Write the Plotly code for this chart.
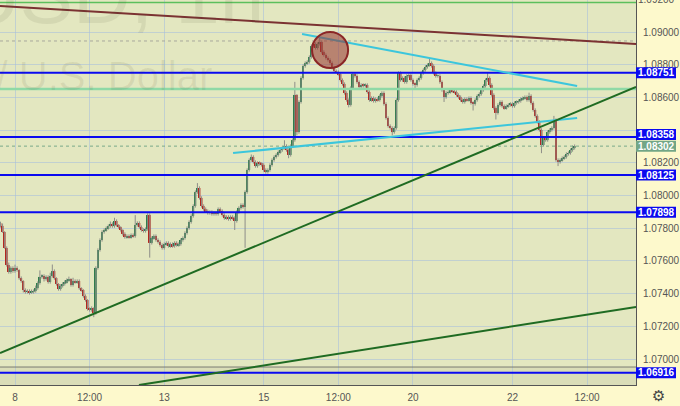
import plotly.graph_objects as go

# ---------------- data (EUR/USD, 1h) ----------------
hours = list(range(-7, 271))  # hour index, 0 = day "8" 00:00
first_open = 1.07830
closes = [
    1.07814, 1.07777, 1.07679, 1.07575, 1.07532, 1.07557, 1.07538,
    1.07557, 1.07544, 1.07495, 1.07477, 1.07422, 1.07410, 1.07416, 1.07404, 1.07410, 1.07416, 1.07434, 1.07465,
    1.07502, 1.07508, 1.07489, 1.07502, 1.07471, 1.07508, 1.07538, 1.07495, 1.07459, 1.07428, 1.07447, 1.07459,
    1.07471, 1.07483, 1.07489, 1.07453, 1.07477, 1.07471, 1.07477, 1.07434, 1.07422, 1.07385, 1.07361, 1.07306,
    1.07300, 1.07312, 1.07281, 1.07557, 1.07667, 1.07728, 1.07777, 1.07789, 1.07801, 1.07813, 1.07826, 1.07813,
    1.07844, 1.07820, 1.07807, 1.07789, 1.07765, 1.07746, 1.07752, 1.07746, 1.07758, 1.07752, 1.07820, 1.07832,
    1.07807, 1.07789, 1.07783, 1.07795, 1.07881, 1.07710, 1.07740, 1.07752, 1.07728, 1.07716, 1.07697, 1.07679,
    1.07703, 1.07710, 1.07691, 1.07703, 1.07691, 1.07710, 1.07697, 1.07703, 1.07728, 1.07740, 1.07771, 1.07801,
    1.07838, 1.07875, 1.07936, 1.08021, 1.08046, 1.07985, 1.07936, 1.07917, 1.07905, 1.07893, 1.07899, 1.07887,
    1.07893, 1.07887, 1.07917, 1.07905, 1.07881, 1.07862, 1.07869, 1.07856, 1.07869, 1.07862, 1.07844, 1.07899,
    1.07924, 1.07942, 1.07930, 1.08021, 1.08156, 1.08217, 1.08236, 1.08205, 1.08180, 1.08199, 1.08193, 1.08187,
    1.08156, 1.08144, 1.08156, 1.08187, 1.08217, 1.08236, 1.08248, 1.08266, 1.08278, 1.08291, 1.08303, 1.08278,
    1.08248, 1.08303, 1.08339, 1.08615, 1.08388, 1.08572, 1.08719, 1.08792, 1.08810, 1.08817, 1.08847, 1.08914,
    1.08927, 1.08902, 1.08927, 1.08939, 1.08878, 1.08859, 1.08841, 1.08829, 1.08810, 1.08780, 1.08761, 1.08755,
    1.08743, 1.08706, 1.08682, 1.08627, 1.08584, 1.08554, 1.08658, 1.08743, 1.08731, 1.08694, 1.08664, 1.08676,
    1.08670, 1.08676, 1.08633, 1.08584, 1.08596, 1.08578, 1.08590, 1.08584, 1.08609, 1.08627, 1.08560, 1.08474,
    1.08425, 1.08413, 1.08388, 1.08413, 1.08584, 1.08749, 1.08706, 1.08719, 1.08694, 1.08731, 1.08737, 1.08706,
    1.08682, 1.08676, 1.08706, 1.08719, 1.08749, 1.08768, 1.08786, 1.08798, 1.08810, 1.08792, 1.08749, 1.08731,
    1.08731, 1.08694, 1.08645, 1.08602, 1.08627, 1.08633, 1.08645, 1.08639, 1.08633, 1.08615, 1.08602, 1.08584,
    1.08572, 1.08590, 1.08584, 1.08596, 1.08566, 1.08560, 1.08584, 1.08609, 1.08621, 1.08645, 1.08670, 1.08706,
    1.08719, 1.08676, 1.08615, 1.08535, 1.08505, 1.08554, 1.08572, 1.08547, 1.08535, 1.08547, 1.08554, 1.08560,
    1.08547, 1.08566, 1.08572, 1.08578, 1.08590, 1.08596, 1.08602, 1.08584, 1.08609, 1.08566, 1.08523, 1.08486,
    1.08450, 1.08401, 1.08309, 1.08352, 1.08339, 1.08388, 1.08401, 1.08413, 1.08462, 1.08217, 1.08205, 1.08217,
    1.08229, 1.08236, 1.08254, 1.08260, 1.08278, 1.08291, 1.08302,
]
upper_wick_pips = [
    1, 1.5, 0.5, 1, 1.5, 1, 1,
    2, 1, 0.5, 1, 0.5, 1, 1, 1, 1.5, 1, 1.5, 1,
    4, 1, 1, 1, 1, 2, 4, 1, 0.5, 0.5, 1, 1,
    1, 1, 1.5, 0.5, 2, 1, 1, 1, 0.5, 0.5, 1, 0.5,
    1, 1, 0.5, 1, 1, 1, 1, 1, 1, 1, 1.5, 1,
    2, 1, 0.5, 0.5, 0.5, 1, 1, 1, 1, 1, 6, 1,
    1, 1, 1, 1, 1, 1, 1, 1, 1, 1, 1, 1,
    1, 1, 1, 1, 1, 1, 1, 1, 1, 1, 1, 1,
    1, 1, 1, 1, 3, 1, 1, 1, 1, 1, 1, 1,
    1, 1, 1, 1, 1, 1, 1, 1, 1, 1, 1, 1,
    1, 1, 1, 1, 1, 1, 1.5, 1, 1, 1, 1, 1,
    1, 1, 1, 1, 1, 1, 1, 1, 1, 1, 3.5, 1,
    1, 1, 1, 8, 0.5, 1, 1, 1, 1, 1, 1, 1,
    1, 1, 1, 2.5, 1, 1, 1, 1, 1, 1, 1, 1,
    1, 1, 1, 1, 1, 1, 1, 1, 1, 1, 1, 1,
    1, 1, 1, 1, 1, 1, 1, 1, 1, 1, 1, 1,
    1, 1, 1, 1, 1, 1, 1, 1, 1, 1, 1, 1,
    1, 1, 1, 1, 1, 1, 1, 1, 3, 1, 1, 1,
    1, 1, 1, 1, 1, 1, 1, 1, 1, 1, 1, 1,
    1, 1, 1, 1, 1, 1, 1, 1, 1, 1, 1, 1,
    3, 1, 1, 1, 1, 1, 1, 1, 1, 1, 1, 1,
    1, 1, 1, 1, 1, 1, 1, 1, 2, 1, 1, 1,
    1, 1, 1, 1, 1, 1, 1, 1, 2.5, 1, 1, 1,
    1, 1, 1, 1, 1, 1.5, 1,
]
lower_wick_pips = [
    1, 0.5, 0.5, 1, 1, 1, 1,
    1, 1, 1, 1, 1.5, 1, 1, 1, 0.5, 1, 1, 1,
    1, 1, 1.5, 1, 1, 1, 1, 1, 1, 1, 1, 1,
    1, 1, 1, 1, 1, 1, 1, 1, 1, 1, 1, 1,
    1, 1, 2.5, 1, 1, 1, 1, 1, 1, 1, 1, 1,
    1, 1, 1, 1, 1, 1, 1, 1, 1, 1, 1, 1,
    1, 1, 1, 1, 1, 9, 1, 1, 1, 1, 1, 1,
    1, 1, 1, 1, 1, 1, 1, 1, 1, 1, 1, 1,
    1, 1, 1, 1, 1, 1, 1, 1, 1, 1, 1, 1,
    1, 1, 1, 1, 1, 1, 1, 1, 1, 1, 5.5, 1,
    1, 1, 1, 25, 1, 1, 1, 1, 1, 1, 1, 1,
    1, 1, 1, 1, 1, 1, 1, 1, 1, 1, 1, 1,
    2, 1, 1, 1, 2, 1, 1, 1, 1, 1, 1, 1,
    1, 1, 1, 1, 1, 1, 1, 1, 1, 1, 1, 1,
    1, 1, 1, 1, 1, 1.5, 1, 1, 1, 1, 1, 1,
    1, 1, 1, 1, 1, 1, 1, 1, 1, 1, 1, 1,
    1, 1, 2, 1, 1, 1, 1, 1, 1, 1, 1, 1,
    1, 2, 1, 1, 1, 1, 1, 1, 1, 1, 1, 1,
    1, 1, 1, 3, 1, 1, 1, 1, 1, 1, 1, 1,
    1, 1, 1, 1, 1, 4, 1, 1, 1, 1, 1, 1,
    1, 1, 1, 1, 4, 1, 1, 1, 1, 1, 1, 1,
    1, 1, 1, 1, 1, 1, 1, 1, 1, 1, 1, 1,
    1, 1, 5, 1, 1, 1, 1, 1, 1, 1, 2.5, 1,
    1, 1, 1, 1, 1, 1, 1,
]

tick_hours = [0, 36, 72, 120, 156, 192, 240, 276]
tick_labels = ["8", "12:00", "13", "15", "12:00", "20", "22", "12:00"]
price_ticks = [1.070, 1.072, 1.074, 1.076, 1.078, 1.080, 1.082, 1.084, 1.086, 1.088, 1.090]
price_tick_labels = ["1.07000", "1.07200", "1.07400", "1.07600", "1.07800", "1.08000",
                     "1.08200", "", "1.08600", "1.08800", "1.09000"]
level_prices = [1.08751, 1.08358, 1.08125, 1.07898, 1.06916]
last_price = 1.08302
mint_level = 1.08651
top_green_level = 1.09180
dotted_level = 1.08945
lower_zone_top = 1.06951

# drawings: (hour, price) end points
resistance_line = [(-7.24, 1.09159), (299.6, 1.08927)]
upper_channel = [(138.5, 1.08988), (271.2, 1.08670)]
lower_channel = [(105.2, 1.08260), (271.2, 1.08474)]
support_line_1 = [(-7.24, 1.07037), (299.6, 1.08664)]
support_line_2 = [(59.8, 1.06841), (299.6, 1.07318)]
circle_box = (143.3, 160.7, 1.08780, 1.09000)

# ---------------- figure ----------------
X_RANGE = [-7.24, 299.6]
Y_RANGE = [1.068411, 1.091957]
PX = (Y_RANGE[1] - Y_RANGE[0]) / 385.0  # price per pixel

opens = [first_open] + closes[:-1]
highs = [max(o, c) + u * 1e-4 for o, c, u in zip(opens, closes, upper_wick_pips)]
lows = [min(o, c) - d * 1e-4 for o, c, d in zip(opens, closes, lower_wick_pips)]

wx, wy = [], []
for t, lo, hi in zip(hours, lows, highs):
    wx += [t, t, None]
    wy += [lo, hi, None]

GREEN = "#2f7d4c"
RED = "#b3271f"
body_base = [min(o, c) for o, c in zip(opens, closes)]
body_h = [max(abs(c - o), 0.00003) for o, c in zip(opens, closes)]
body_col = [GREEN if c >= o else RED for o, c in zip(opens, closes)]

fig = go.Figure()
fig.add_trace(go.Scatter(x=wx, y=wy, mode="lines",
                         line=dict(color="#8e8e88", width=1), hoverinfo="skip"))
fig.add_trace(go.Bar(x=hours, y=body_h, base=body_base, width=0.88,
                     marker=dict(color=body_col, line=dict(width=0)), hoverinfo="skip"))

shapes = []
shapes.append(dict(type="rect", xref="paper", yref="y", x0=0, x1=1,
                   y0=Y_RANGE[0], y1=lower_zone_top, fillcolor="rgba(0,0,0,0.04)",
                   line=dict(width=0), layer="below"))
shapes.append(dict(type="line", xref="paper", yref="y", x0=0, x1=1,
                   y0=lower_zone_top, y1=lower_zone_top, line=dict(color="#7a7a72", width=1), layer="above"))
shapes.append(dict(type="line", xref="paper", yref="y", x0=0, x1=1, y0=top_green_level, y1=top_green_level,
                   line=dict(color="#5cbf5c", width=1.5), layer="above"))
shapes.append(dict(type="line", xref="paper", yref="y", x0=0, x1=1, y0=dotted_level, y1=dotted_level,
                   line=dict(color="#a8a89c", width=1, dash="dot"), layer="above"))
shapes.append(dict(type="line", xref="paper", yref="y", x0=0, x1=1, y0=mint_level, y1=mint_level,
                   line=dict(color="#8fd9a6", width=2.5), layer="above"))
shapes.append(dict(type="line", xref="paper", yref="y", x0=0, x1=1, y0=last_price, y1=last_price,
                   line=dict(color="#79a98a", width=1, dash="dot"), layer="above"))
for p in level_prices:
    shapes.append(dict(type="line", xref="paper", yref="y", x0=0, x1=1, y0=p, y1=p,
                       line=dict(color="#0a0af0", width=2), layer="above"))
for (a, b), col in [(resistance_line, "#7b3232"), (upper_channel, "#3cc6dc"),
                    (lower_channel, "#3cc6dc"), (support_line_1, "#1f6b22"),
                    (support_line_2, "#1f6b22")]:
    shapes.append(dict(type="line", xref="x", yref="y", x0=a[0], y0=a[1], x1=b[0], y1=b[1],
                       line=dict(color=col, width=2), layer="above"))
shapes.append(dict(type="circle", xref="x", yref="y", x0=circle_box[0], x1=circle_box[1],
                   y0=circle_box[2], y1=circle_box[3], fillcolor="rgba(150,50,45,0.55)",
                   line=dict(color="#8a2626", width=2), layer="above"))

annotations = []
BX0, BX1 = 1.0, 676 / 636
BXC = (636 + 676) / 2 / 636
LABEL_FONT = "Liberation Sans, Arial"
# price label boxes (vertical nudge in pixels keeps adjacent boxes apart)
box_specs = [(p, "#0a0af0", 0) for p in level_prices] + [(last_price, "#72a686", 0)]
box_specs[1] = (level_prices[1], "#0a0af0", 2.5)
for p, col, nudge in box_specs:
    c = p + nudge * PX
    shapes.append(dict(type="rect", xref="paper", yref="y", x0=BX0, x1=BX1,
                       y0=c - 5.5 * PX, y1=c + 5.5 * PX, fillcolor=col, line=dict(width=0), layer="above"))
    annotations.append(dict(xref="paper", yref="y", x=BXC, y=c, text=f"<b>{p:.5f}</b>", showarrow=False,
                            xanchor="center", yanchor="middle",
                            font=dict(family=LABEL_FONT, size=10, color="white")))
annotations.append(dict(xref="paper", yref="paper", x=BXC, y=1.0 + 0.7 / 385, text="1.09200",
                        showarrow=False, xanchor="center", yanchor="middle",
                        font=dict(family=LABEL_FONT, size=10, color="#555555")))
annotations.append(dict(xref="paper", yref="paper", x=266 / 636, y=(385 - 42) / 385, text="EURUSD, 1h",
                        showarrow=False, xanchor="right", yanchor="bottom",
                        font=dict(family="Liberation Sans, Arial", size=80, color="rgba(70,70,40,0.09)")))
annotations.append(dict(xref="paper", yref="paper", x=214 / 636, y=(385 - 100) / 385, text="Euro / U.S. Dollar",
                        showarrow=False, xanchor="right", yanchor="bottom",
                        font=dict(family="Liberation Sans, Arial", size=40, color="rgba(70,70,40,0.09)")))
annotations.append(dict(xref="paper", yref="paper", x=658 / 636, y=-11 / 385, text="⚙", showarrow=False,
                        xanchor="center", yanchor="middle", font=dict(family="DejaVu Sans", size=15, color="#444")))

FONT = dict(family=LABEL_FONT, size=10, color="#555555")
GRID = "rgba(165,190,220,0.55)"
fig.update_layout(
    template="none",
    width=680, height=406,
    margin=dict(l=0, r=44, t=0, b=21),
    paper_bgcolor="#fdf9cc",
    plot_bgcolor="#e3e7c0",
    showlegend=False, hovermode=False, barmode="overlay",
    shapes=shapes, annotations=annotations,
    xaxis=dict(range=X_RANGE, tickmode="array", tickvals=tick_hours, ticktext=tick_labels,
               showgrid=True, gridcolor=GRID, gridwidth=1, zeroline=False,
               showline=True, linecolor="#555555", linewidth=1, ticks="",
               tickfont=FONT, ticklabelstandoff=3, fixedrange=True),
    yaxis=dict(range=Y_RANGE, side="right", tickmode="array", tickvals=price_ticks,
               ticktext=price_tick_labels,
               showgrid=True, gridcolor=GRID, gridwidth=1, zeroline=False,
               showline=True, linecolor="#555555", linewidth=1, ticks="",
               tickfont=FONT, ticklabelstandoff=4, fixedrange=True),
)

fig.write_html("out.html", config={"displayModeBar": False},
               post_script="document.body.style.margin='0';document.body.style.padding='0';")
